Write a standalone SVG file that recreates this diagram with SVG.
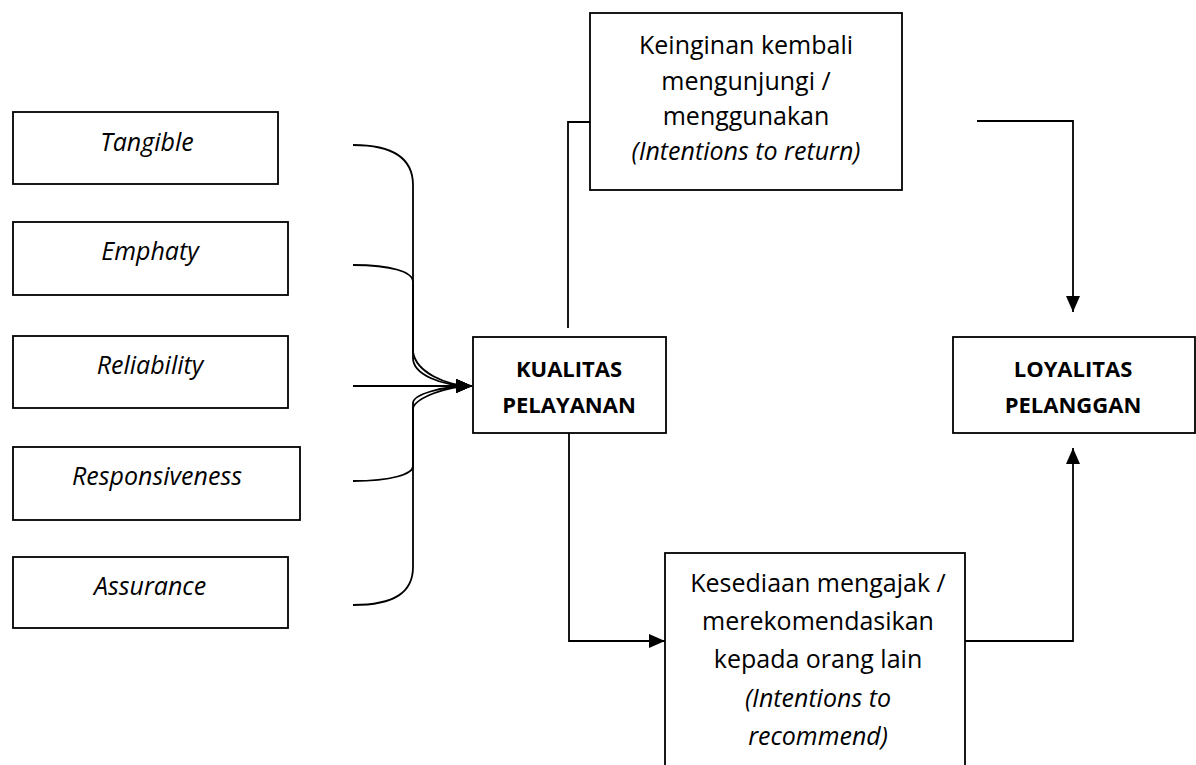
<svg xmlns="http://www.w3.org/2000/svg" width="1196" height="765" viewBox="0 0 1196 765">
<style>
.box{fill:#fff;stroke:#000;stroke-width:1.8}
.t{font-family:"Open Sans","DejaVu Sans",sans-serif;font-size:25px;fill:#000;text-anchor:middle}
.i{font-style:italic}
.b{font-weight:bold;font-size:22px}
.c{fill:none;stroke:#000;stroke-width:1.8}
</style>
<defs>
<marker id="ah" markerUnits="userSpaceOnUse" markerWidth="16" markerHeight="14" refX="16" refY="7" orient="auto">
<path d="M0,0 L16,7 L0,14 Z" fill="#000"/>
</marker>
</defs>
<g id="tangible"><rect class="box" x="13" y="112" width="265" height="72"/><text class="t i" x="147" y="151">Tangible</text></g>
<g id="emphaty"><rect class="box" x="13" y="222" width="275" height="73"/><text class="t i" x="150" y="260">Emphaty</text></g>
<g id="reliability"><rect class="box" x="13" y="336" width="275" height="72"/><text class="t i" x="150" y="374">Reliability</text></g>
<g id="responsiveness"><rect class="box" x="13" y="447" width="287" height="73"/><text class="t i" x="157" y="485">Responsiveness</text></g>
<g id="assurance"><rect class="box" x="13" y="557" width="275" height="71"/><text class="t i" x="150" y="595">Assurance</text></g>
<g id="kualitas"><rect class="box" x="473" y="337" width="193" height="96"/><text class="t b" x="569" y="377">KUALITAS</text><text class="t b" x="569" y="413">PELAYANAN</text></g>
<g id="loyalitas"><rect class="box" x="953" y="337" width="242" height="96"/><text class="t b" x="1073" y="377">LOYALITAS</text><text class="t b" x="1073" y="413">PELANGGAN</text></g>
<g id="return"><rect class="box" x="590" y="13" width="312" height="177"/><text class="t" x="746" y="54">Keinginan kembali</text><text class="t" x="746" y="90">mengunjungi /</text><text class="t" x="746" y="125">menggunakan</text><text class="t i" x="746" y="160">(Intentions to return)</text></g>
<g id="recommend"><rect class="box" x="665" y="553" width="300" height="230"/><text class="t" x="818" y="592">Kesediaan mengajak /</text><text class="t" x="818" y="630">merekomendasikan</text><text class="t" x="818" y="668">kepada orang lain</text><text class="t i" x="818" y="707">(Intentions to</text><text class="t i" x="818" y="745">recommend)</text></g>
<g id="connectors">
<path class="c" d="M353,145 C395,145 413,160 413,185 L413,358 C413,374 440,386 472,386" marker-end="url(#ah)"/>
<path class="c" d="M353,265 C392,265 413,272 413,282 L413,352 C416,372 446,386 472,386" marker-end="url(#ah)"/>
<path class="c" d="M353,386 L472,386" marker-end="url(#ah)"/>
<path class="c" d="M353,481 C392,481 413,474 413,466 L413,408 C416,398 446,386 472,386" marker-end="url(#ah)"/>
<path class="c" d="M353,605 C395,605 413,592 413,567 L413,403 C413,395 440,386 472,386" marker-end="url(#ah)"/>
<path class="c" d="M568,328 L568,122 L590,122"/>
<path class="c" d="M977,121 L1073,121 L1073,312" marker-end="url(#ah)"/>
<path class="c" d="M569,433 L569,641 L665,641" marker-end="url(#ah)"/>
<path class="c" d="M965,641 L1073,641 L1073,448" marker-end="url(#ah)"/>
</g>
</svg>
